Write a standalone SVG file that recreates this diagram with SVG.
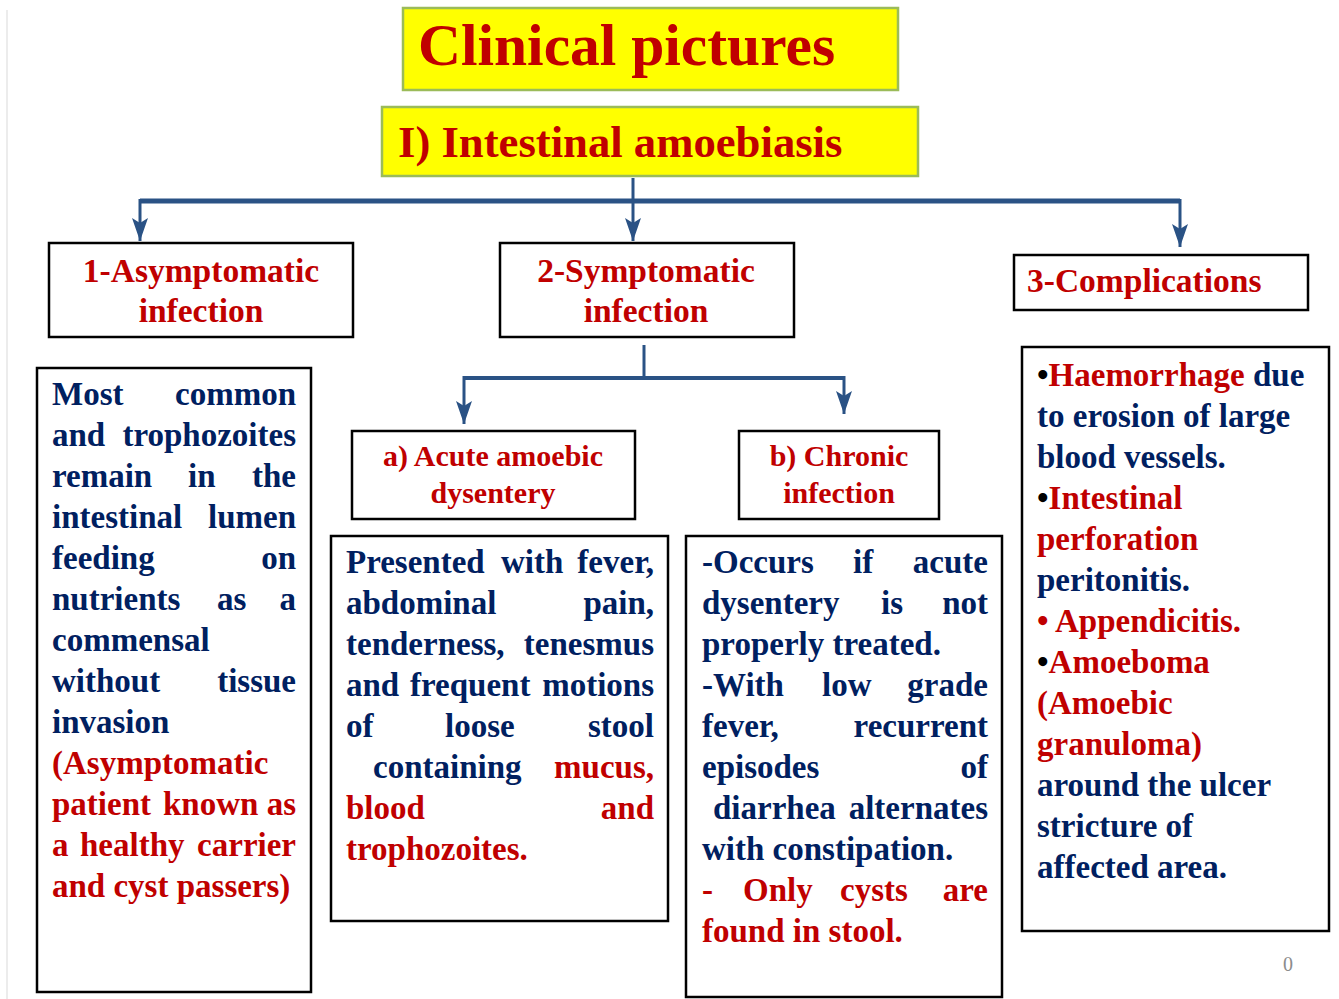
<svg xmlns="http://www.w3.org/2000/svg" width="1339" height="999" viewBox="0 0 1339 999">
<defs>
<style>
.t{font-family:"Liberation Serif","Times New Roman",serif;font-weight:bold;}
.b{font-size:33px;}
.bl{fill:#002060;}
.rd{fill:#c00000;}
.k{fill:#000;}
.lab{font-size:33.5px;fill:#c00000;}
.sl{font-size:30px;fill:#c00000;}
.e{text-anchor:end;}
.m{text-anchor:middle;}
.yb{fill:#ffff00;stroke:#9bbb59;stroke-width:2.5;}
.wb{fill:#fff;stroke:#000;stroke-width:2.5;}
.cn{fill:none;stroke:#2a5285;stroke-width:3;}
.cnh{fill:none;stroke:#2a5285;stroke-width:5;}
</style>
<marker id="ar" markerUnits="userSpaceOnUse" markerWidth="26" markerHeight="18" refX="23" refY="8" orient="auto">
<path d="M0,0 L23,8 L0,16 L5,8 z" fill="#2a5285"/>
</marker>
</defs>
<rect width="1339" height="999" fill="#fff"/>
<line x1="7" y1="10" x2="7" y2="999" stroke="#d9d9d9" stroke-width="1"/>

<g id="title">
<rect class="yb" x="403" y="8" width="495" height="82"/>
<text class="t rd" font-size="59.5" x="418" y="65">Clinical pictures</text>
</g>
<g id="subtitle">
<rect class="yb" x="382" y="107" width="536" height="69"/>
<text class="t rd" font-size="44.7" x="398" y="157">I) Intestinal amoebiasis</text>
</g>

<g id="connectors">
<path class="cnh" d="M140,201 L1180,201"/>
<path class="cn" d="M633,178 L633,241" marker-end="url(#ar)"/>
<path class="cn" d="M140,199 L140,241" marker-end="url(#ar)"/>
<path class="cn" d="M1180,199 L1180,247" marker-end="url(#ar)"/>
<path class="cn" d="M644,345 L644,379"/>
<path class="cnh" d="M464,378 L844,378" style="stroke-width:4"/>
<path class="cn" d="M464,376 L464,424" marker-end="url(#ar)"/>
<path class="cn" d="M844,376 L844,414" marker-end="url(#ar)"/>
</g>

<g id="asymptomatic">
<rect class="wb" x="49" y="243" width="304" height="94"/>
<text class="t lab m" x="201" y="282">1-Asymptomatic</text>
<text class="t lab m" x="201" y="322">infection</text>
</g>
<g id="symptomatic">
<rect class="wb" x="500" y="243" width="294" height="94"/>
<text class="t lab m" x="646" y="282">2-Symptomatic</text>
<text class="t lab m" x="646" y="322">infection</text>
</g>
<g id="complications">
<rect class="wb" x="1014" y="255" width="294" height="55"/>
<text class="t lab" x="1027" y="292">3-Complications</text>
</g>

<g id="acute">
<rect class="wb" x="352" y="431" width="283" height="88"/>
<text class="t sl m" x="493" y="466">a) Acute amoebic</text>
<text class="t sl m" x="493" y="503">dysentery</text>
</g>
<g id="chronic">
<rect class="wb" x="739" y="431" width="200" height="88"/>
<text class="t sl m" x="839" y="466">b) Chronic</text>
<text class="t sl m" x="839" y="503">infection</text>
</g>

<g id="asym-text" class="t b">
<rect class="wb" x="37" y="368" width="274" height="624"/>
<text class="bl" x="52" y="405">Most</text>
<text class="bl e" x="296" y="405">common</text>
<text class="bl" x="52" y="446">and</text>
<text class="bl e" x="296" y="446">trophozoites</text>
<text class="bl" x="52" y="487">remain</text>
<text class="bl" x="188" y="487">in</text>
<text class="bl e" x="296" y="487">the</text>
<text class="bl" x="52" y="528">intestinal</text>
<text class="bl e" x="296" y="528">lumen</text>
<text class="bl" x="52" y="569">feeding</text>
<text class="bl e" x="296" y="569">on</text>
<text class="bl" x="52" y="610">nutrients</text>
<text class="bl" x="217" y="610">as</text>
<text class="bl e" x="296" y="610">a</text>
<text class="bl" x="52" y="651">commensal</text>
<text class="bl" x="52" y="692">without</text>
<text class="bl e" x="296" y="692">tissue</text>
<text class="bl" x="52" y="733">invasion</text>
<text class="rd" x="52" y="774">(Asymptomatic</text>
<text class="rd" x="52" y="815">patient</text>
<text class="rd" x="163" y="815">known</text>
<text class="rd e" x="296" y="815">as</text>
<text class="rd" x="52" y="856">a</text>
<text class="rd" x="80" y="856">healthy</text>
<text class="rd e" x="296" y="856">carrier</text>
<text class="rd" x="52" y="897">and cyst passers)</text>
</g>

<g id="acute-text" class="t b">
<rect class="wb" x="331" y="536" width="337" height="385"/>
<text class="bl" x="346" y="573">Presented</text>
<text class="bl" x="501" y="573">with</text>
<text class="bl e" x="654" y="573">fever,</text>
<text class="bl" x="346" y="614">abdominal</text>
<text class="bl e" x="654" y="614">pain,</text>
<text class="bl" x="346" y="655">tenderness,</text>
<text class="bl e" x="654" y="655">tenesmus</text>
<text class="bl" x="346" y="696">and</text>
<text class="bl" x="410" y="696">frequent</text>
<text class="bl e" x="654" y="696">motions</text>
<text class="bl" x="346" y="737">of</text>
<text class="bl" x="445" y="737">loose</text>
<text class="bl e" x="654" y="737">stool</text>
<text class="bl" x="373" y="778">containing</text>
<text class="rd e" x="654" y="778">mucus,</text>
<text class="rd" x="346" y="819">blood</text>
<text class="rd e" x="654" y="819">and</text>
<text class="rd" x="346" y="860">trophozoites.</text>
</g>

<g id="chronic-text" class="t b">
<rect class="wb" x="686" y="536" width="316" height="461"/>
<text class="bl" x="702" y="573">-Occurs</text>
<text class="bl" x="853" y="573">if</text>
<text class="bl e" x="988" y="573">acute</text>
<text class="bl" x="702" y="614">dysentery</text>
<text class="bl" x="881" y="614">is</text>
<text class="bl e" x="988" y="614">not</text>
<text class="bl" x="702" y="655">properly treated.</text>
<text class="bl" x="702" y="696">-With</text>
<text class="bl" x="822" y="696">low</text>
<text class="bl e" x="988" y="696">grade</text>
<text class="bl" x="702" y="737">fever,</text>
<text class="bl e" x="988" y="737">recurrent</text>
<text class="bl" x="702" y="778">episodes</text>
<text class="bl e" x="988" y="778">of</text>
<text class="bl" x="713" y="819">diarrhea</text>
<text class="bl e" x="988" y="819">alternates</text>
<text class="bl" x="702" y="860">with constipation.</text>
<text class="rd" x="702" y="901">-</text>
<text class="rd" x="743" y="901">Only</text>
<text class="rd" x="840" y="901">cysts</text>
<text class="rd e" x="988" y="901">are</text>
<text class="rd" x="702" y="942">found in stool.</text>
</g>

<g id="complications-text" class="t b">
<rect class="wb" x="1022" y="347" width="307" height="584"/>
<text x="1037" y="386"><tspan class="k">•</tspan><tspan class="rd">Haemorrhage</tspan><tspan class="bl"> due</tspan></text>
<text class="bl" x="1037" y="427">to erosion of large</text>
<text class="bl" x="1037" y="468">blood vessels.</text>
<text x="1037" y="509"><tspan class="k">•</tspan><tspan class="rd">Intestinal</tspan></text>
<text class="rd" x="1037" y="550">perforation</text>
<text class="bl" x="1037" y="591">peritonitis.</text>
<text class="rd" x="1037" y="632">• Appendicitis.</text>
<text x="1037" y="673"><tspan class="k">•</tspan><tspan class="rd">Amoeboma</tspan></text>
<text class="rd" x="1037" y="714">(Amoebic</text>
<text class="rd" x="1037" y="755">granuloma)</text>
<text class="bl" x="1037" y="796">around the ulcer</text>
<text class="bl" x="1037" y="837">stricture of</text>
<text class="bl" x="1037" y="878">affected area.</text>
</g>

<text x="1288" y="971" font-family="Liberation Serif, serif" font-size="20" fill="#8c8c8c" text-anchor="middle">0</text>
</svg>
